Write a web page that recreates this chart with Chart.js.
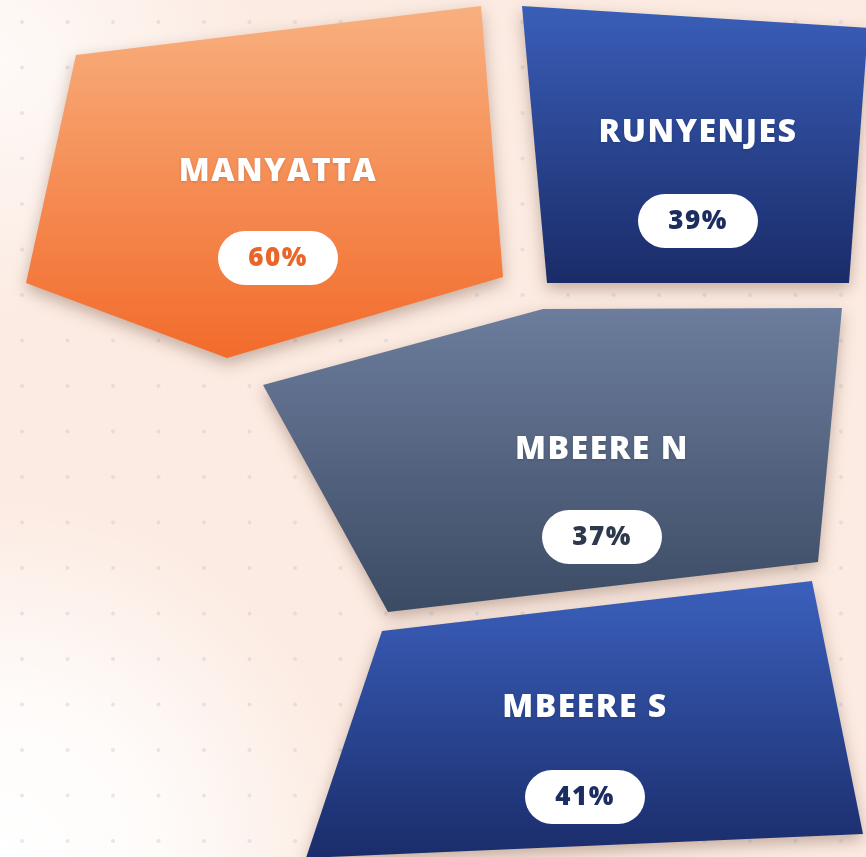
<!DOCTYPE html>
<html>
<head>
<meta charset="utf-8">
<script src="https://cdn.jsdelivr.net/npm/chart.js@4.4.1/dist/chart.umd.min.js"></script>
<style>
    html, body { margin: 0; padding: 0; background: #fcebe2; }
    #wrap { width: 866px; height: 857px; position: relative; }
</style>
</head>
<body>
<div id="wrap"><canvas id="regionChart"></canvas></div>
<script>
// Data
const regions = ['MANYATTA', 'RUNYENJES', 'MBEERE N', 'MBEERE S'];
const shares = [60, 39, 37, 41];

// Layout: tile outlines and label anchors in page units (x right, y down)
const tileShapes = [
    [[76, 55], [481, 6], [503, 277], [227, 358], [26, 283]],
    [[522, 6], [868, 28], [849, 283], [547, 283]],
    [[263, 385], [543, 309], [842, 308], [818, 562], [388, 612]],
    [[382, 631], [812, 581], [863, 834], [306, 858]]
];
const labelAnchors = [[278, 172, 258], [698, 133, 221], [602, 450, 537], [585, 708, 797]];

// Styles
const tileGradients = [
    ['#f8b07f', '#f26b2b'],
    ['#3a5eb8', '#1a2b68'],
    ['#6c7d9d', '#3c4b64'],
    ['#3b60bc', '#1a2c6a']
];
const pillTextColors = ['#e8662a', '#1c2d60', '#2e394d', '#1c2d62'];

function tileFill(context) {
    const chart = context.chart;
    const i = context.datasetIndex;
    const yScale = chart.scales.y;
    if (!yScale || i === undefined) return tileGradients[0][1];
    const ys = tileShapes[i].map(p => p[1]);
    const top = yScale.getPixelForValue(Math.min(...ys));
    const bottom = yScale.getPixelForValue(Math.max(...ys));
    if (!isFinite(top) || !isFinite(bottom)) return tileGradients[i][1];
    const g = chart.ctx.createLinearGradient(0, top, 0, bottom);
    g.addColorStop(0, tileGradients[i][0]);
    g.addColorStop(1, tileGradients[i][1]);
    return g;
}

// Background with soft glow and dot grid
const backdrop = {
    id: 'backdrop',
    beforeDraw(chart) {
        const {ctx, width, height} = chart;
        ctx.save();
        ctx.fillStyle = '#fcebe2';
        ctx.fillRect(0, 0, width, height);
        let glow = ctx.createRadialGradient(0, height, 0, 0, height, 360);
        glow.addColorStop(0, 'rgba(255,255,255,1)');
        glow.addColorStop(0.45, 'rgba(255,255,255,0.8)');
        glow.addColorStop(1, 'rgba(255,255,255,0)');
        ctx.fillStyle = glow;
        ctx.fillRect(0, 0, width, height);
        glow = ctx.createRadialGradient(0, 60, 0, 0, 60, 260);
        glow.addColorStop(0, 'rgba(255,255,255,0.75)');
        glow.addColorStop(1, 'rgba(255,255,255,0)');
        ctx.fillStyle = glow;
        ctx.fillRect(0, 0, width, height);
        ctx.fillStyle = 'rgba(200,195,205,0.4)';
        for (let x = 22; x < width; x += 45.5) {
            for (let y = 22; y < height; y += 45.5) {
                ctx.beginPath();
                ctx.arc(x, y, 2, 0, Math.PI * 2);
                ctx.fill();
            }
        }
        ctx.restore();
    }
};

// Drop shadow under tiles, then names and value pills on top
const tileDecor = {
    id: 'tileDecor',
    beforeDatasetsDraw(chart) {
        const ctx = chart.ctx;
        ctx.save();
        ctx.shadowColor = 'rgba(90,50,30,0.35)';
        ctx.shadowBlur = 16;
        ctx.shadowOffsetX = 0;
        ctx.shadowOffsetY = 6;
    },
    afterDatasetsDraw(chart) {
        const ctx = chart.ctx;
        ctx.restore();
        const xs = chart.scales.x;
        const ys = chart.scales.y;
        ctx.save();
        ctx.textAlign = 'center';
        ctx.textBaseline = 'middle';
        regions.forEach((name, i) => {
            const [ax, ny, py] = labelAnchors[i];
            const cx = xs.getPixelForValue(ax);
            ctx.fillStyle = '#ffffff';
            ctx.font = '800 32px "Open Sans", sans-serif';
            ctx.letterSpacing = '1.5px';
            ctx.shadowColor = 'rgba(0,0,0,0.15)';
            ctx.shadowBlur = 3;
            ctx.shadowOffsetY = 1;
            ctx.fillText(name, cx, ys.getPixelForValue(ny));
            ctx.shadowColor = 'rgba(0,0,0,0)';

            const cy = ys.getPixelForValue(py);
            const w = 120, h = 54;
            ctx.beginPath();
            ctx.roundRect(cx - w / 2, cy - h / 2, w, h, h / 2);
            ctx.fillStyle = '#ffffff';
            ctx.fill();
            ctx.fillStyle = pillTextColors[i];
            ctx.font = '800 26px "Open Sans", sans-serif';
            ctx.letterSpacing = '1.5px';
            ctx.fillText(shares[i] + '%', cx, cy + 1);
        });
        ctx.restore();
    }
};

const chart = new Chart(document.getElementById('regionChart'), {
    type: 'line',
    data: {
        datasets: regions.map((name, i) => ({
            label: name,
            data: tileShapes[i].concat([tileShapes[i][0]]).map(p => ({x: p[0], y: p[1]})),
            fill: 'shape',
            backgroundColor: tileFill,
            borderColor: 'rgba(0,0,0,0)',
            borderWidth: 1,
            pointRadius: 0,
            tension: 0
        }))
    },
    options: {
        responsive: true,
        maintainAspectRatio: false,
        animation: false,
        layout: { padding: 0 },
        scales: {
            x: { type: 'linear', min: 0, max: 866, display: false },
            y: { type: 'linear', min: 0, max: 857, reverse: true, display: false }
        },
        plugins: {
            legend: { display: false },
            tooltip: { enabled: false }
        }
    },
    plugins: [backdrop, tileDecor]
});
</script>
</body>
</html>
